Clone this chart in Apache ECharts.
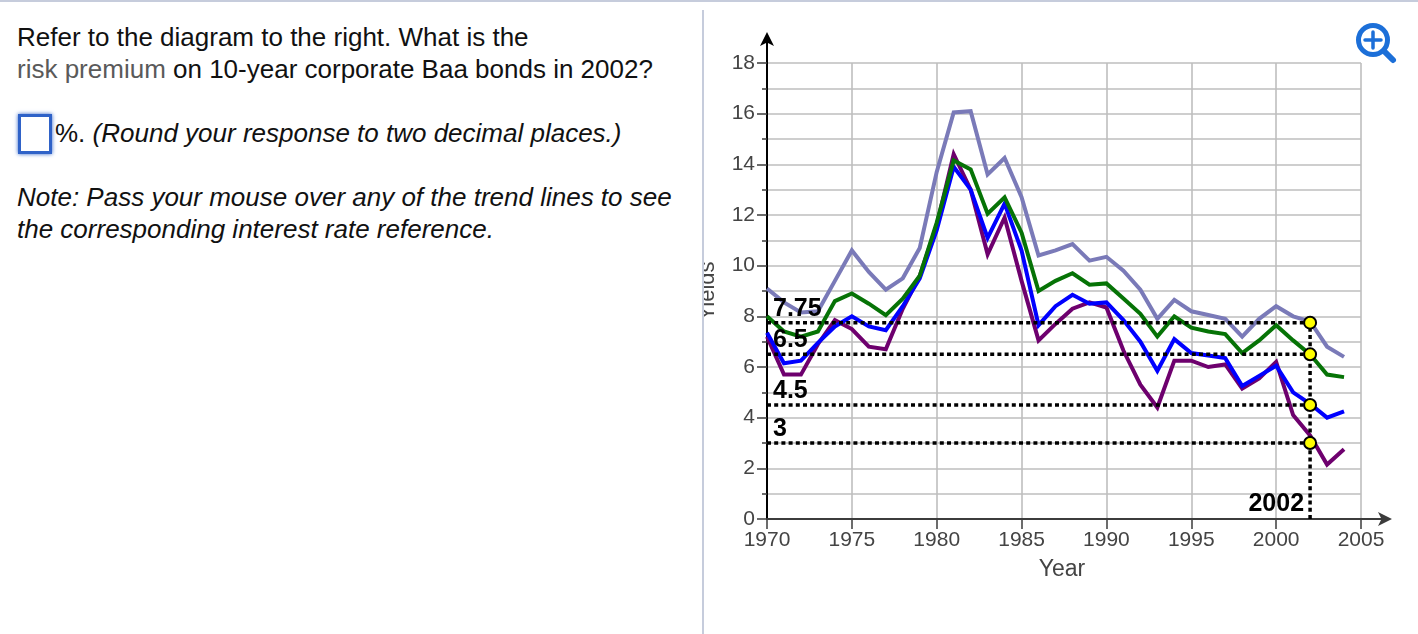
<!DOCTYPE html>
<html>
<head>
<meta charset="utf-8">
<script src="https://cdn.jsdelivr.net/npm/echarts@6/dist/echarts.min.js"></script>
<style>
  html, body { margin: 0; padding: 0; background: #fff; overflow: hidden; }
  #chart { position: absolute; left: 0; top: 0; width: 1418px; height: 634px; }
  #panel {
    position: absolute; left: 0; top: 0; width: 702px; height: 634px; background: #fff;
    font-family: "Liberation Sans", Arial, sans-serif; font-size: 26px; color: #111;
  }
  #panel div { position: absolute; left: 17px; white-space: nowrap; line-height: 32px; }
  #panel .muted { color: #5a5a5a; }
  #box {
    position: absolute; left: 18px; top: 114px; width: 28px; height: 34px; background: #fff;
    border: 3px solid #2f62c8; box-shadow: 0 0 4px #2f62c8;
  }
  #topbar { position: absolute; left: 0; top: 0; width: 1418px; height: 2px; background: #c6ccdc; }
  #divider { position: absolute; left: 702px; top: 10px; width: 2px; height: 624px; background: #c6ccdc; }
  #zoomIcon { position: absolute; left: 1352px; top: 20px; }
</style>
</head>
<body>
<div id="chart"></div>
<div id="panel">
  <div style="top:21px">Refer to the diagram to the right. What is the</div>
  <div style="top:53px"><span class="muted">risk premium</span> on 10-year corporate Baa bonds in 2002?</div>
  <span id="box"></span>
  <div style="top:117px;left:55px"><span>%.</span> <i>(Round your response to two decimal places.)</i></div>
  <div style="top:181px"><i>Note: Pass your mouse over any of the trend lines to see</i></div>
  <div style="top:213px"><i>the corresponding interest rate reference.</i></div>
</div>
<div id="topbar"></div>
<div id="divider"></div>
<svg id="zoomIcon" width="46" height="46" viewBox="0 0 46 46">
  <circle cx="21" cy="20" r="14.5" fill="none" stroke="#1c6fd8" stroke-width="5"/>
  <path d="M32 31 L41 40" stroke="#1c6fd8" stroke-width="6" stroke-linecap="round"/>
  <path d="M13 20 H29 M21 12 V28" stroke="#1c6fd8" stroke-width="3.5" stroke-linecap="round"/>
</svg>
<script>
  var years = [1970,1971,1972,1973,1974,1975,1976,1977,1978,1979,1980,1981,1982,1983,1984,1985,1986,1987,
    1988,1989,1990,1991,1992,1993,1994,1995,1996,1997,1998,1999,2000,2001,2002,2003,2004]
  var baaValues = [9.1,8.55,8.15,8.2,9.4,10.6,9.75,9.05,9.5,10.7,13.7,16.05,16.1,13.6,14.25,12.7,10.4,10.6,
    10.85,10.2,10.35,9.8,9.05,7.9,8.65,8.2,8.05,7.9,7.2,7.9,8.4,8.0,7.8,6.8,6.4]
  var greenValues = [8.0,7.4,7.2,7.4,8.6,8.9,8.5,8.05,8.7,9.6,11.7,14.15,13.8,12.05,12.7,11.3,9.0,9.4,
    9.7,9.25,9.3,8.7,8.1,7.2,8.0,7.55,7.4,7.3,6.55,7.05,7.65,7.05,6.5,5.7,5.6]
  var blueValues = [7.35,6.15,6.25,6.95,7.6,8.0,7.6,7.45,8.4,9.5,11.4,13.9,13.0,11.1,12.45,10.6,7.65,8.4,
    8.85,8.5,8.55,7.85,7.0,5.85,7.1,6.55,6.45,6.35,5.25,5.65,6.05,5.0,4.55,4.0,4.25]
  var purpleValues = [7.2,5.7,5.7,6.9,7.85,7.5,6.8,6.7,8.3,9.6,11.6,14.4,13.0,10.45,11.9,9.4,7.05,7.7,
    8.3,8.55,8.35,6.65,5.3,4.4,6.25,6.25,6.0,6.1,5.15,5.55,6.2,4.1,3.3,2.15,2.75]
  var refYear = 2002
  var refLevels = [7.75, 6.5, 4.5, 3]
  var refLabels = ['7.75', '6.5', '4.5', '3']

  var axisColor = '#3c3c3c'
  var gridColor = '#bebebe'
  var textColor = '#444444'
  var sans = '"Liberation Sans", Arial, sans-serif'
  var arrow = 'path://M0,0 L5,10 L0,7.5 L-5,10 Z'

  function zip(values) {
    return years.map(function (y, i) { return [y, values[i]] })
  }

  function trend(name, values, color) {
    return {
      name: name, type: 'line', data: zip(values), symbol: 'none', silent: true,
      lineStyle: { color: color, width: 4, join: 'miter' }
    }
  }

  function dotted(data) {
    return {
      type: 'line', data: data, symbol: 'none', silent: true, z: 4,
      lineStyle: { color: '#000', width: 3.5, type: [4, 3.2], cap: 'butt' }
    }
  }

  var series = [
    trend('Baa', baaValues, '#7a7ab8'),
    trend('Purple', purpleValues, '#6e006e'),
    trend('Blue', blueValues, '#0000ff'),
    trend('Green', greenValues, '#067306')
  ]
  refLevels.forEach(function (level) {
    series.push(dotted([[years[0], level], [refYear, level]]))
  })
  series.push(dotted([[refYear, 0], [refYear, refLevels[0]]]))
  series.push({
    type: 'scatter', symbol: 'circle', symbolSize: 12, silent: true, z: 5,
    itemStyle: { color: '#ffff00', borderColor: '#000', borderWidth: 2, opacity: 1 },
    data: refLevels.map(function (level) { return [refYear, level] })
  })
  series.push({
    type: 'scatter', symbolSize: 0, silent: true, z: 6,
    itemStyle: { color: 'transparent', opacity: 1 },
    label: {
      show: true, position: 'right', distance: 0, offset: [6, -14],
      formatter: function (p) { return refLabels[p.dataIndex] },
      color: '#000', fontFamily: sans, fontWeight: 'bold', fontSize: 25
    },
    data: refLevels.map(function (level) { return [years[0], level] })
  })
  series.push({
    type: 'scatter', symbolSize: 0, silent: true, z: 6,
    itemStyle: { color: 'transparent', opacity: 1 },
    label: {
      show: true, position: 'left', distance: 0, offset: [-6, -15],
      formatter: String(refYear),
      color: '#000', fontFamily: sans, fontWeight: 'bold', fontSize: 25
    },
    data: [[refYear, 0]]
  })

  var chart = echarts.init(document.getElementById('chart'), null, { renderer: 'canvas' })
  chart.setOption({
    animation: false,
    grid: [
      { left: 767, top: 63, width: 594, height: 456 },
      // second grid only carries the long arrowed axis lines
      { left: 767, top: 39, width: 618, height: 480 }
    ],
    xAxis: [{
      type: 'value', min: 1970, max: 2005, interval: 5,
      name: 'Year', nameLocation: 'middle', nameGap: 39,
      nameTextStyle: { color: textColor, fontFamily: sans, fontSize: 23, padding: [0, 4, 0, 0] },
      axisLine: { show: false },
      axisTick: { show: true, length: 10, lineStyle: { color: axisColor, width: 1.5 } },
      axisLabel: { color: textColor, fontFamily: sans, fontSize: 21, margin: 11, formatter: function (v) { return String(v) } },
      splitLine: { show: true, lineStyle: { color: gridColor, width: 1.6 } }
    }, {
      type: 'value', gridIndex: 1, min: 0, max: 1, show: true,
      axisLine: { show: true, onZero: false, symbol: ['none', arrow], symbolSize: [14, 14], lineStyle: { color: axisColor, width: 2 } },
      axisTick: { show: false }, axisLabel: { show: false }, splitLine: { show: false }
    }],
    yAxis: [{
      type: 'value', min: 0, max: 18, interval: 2,
      name: 'Yields', nameLocation: 'middle', nameRotate: 90, nameGap: 48,
      nameTextStyle: { color: textColor, fontFamily: sans, fontSize: 22 },
      axisLine: { show: false },
      axisTick: { show: true, length: 10, lineStyle: { color: axisColor, width: 1.5 } },
      minorTick: { show: true, splitNumber: 2, length: 5, lineStyle: { color: axisColor, width: 1.5 } },
      axisLabel: { color: textColor, fontFamily: sans, fontSize: 21, margin: 12 },
      splitLine: { show: true, lineStyle: { color: gridColor, width: 1.6 } },
      minorSplitLine: { show: true, lineStyle: { color: gridColor, width: 1.6 } }
    }, {
      type: 'value', gridIndex: 1, min: 0, max: 1, show: true,
      axisLine: { show: true, onZero: false, symbol: ['none', arrow], symbolSize: [14, 14], lineStyle: { color: '#000', width: 2 } },
      axisTick: { show: false }, axisLabel: { show: false }, splitLine: { show: false }
    }],
    series: series
  })
</script>
</body>
</html>
